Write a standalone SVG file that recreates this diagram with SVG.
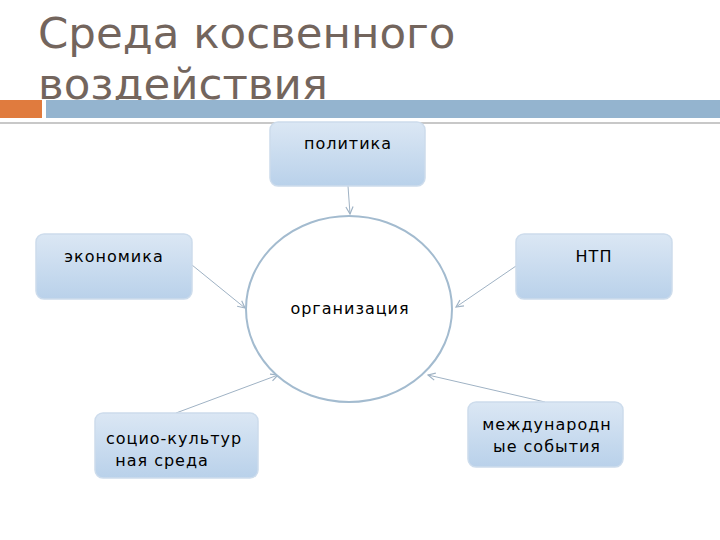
<svg xmlns="http://www.w3.org/2000/svg" width="720" height="540" viewBox="0 0 720 540">
<style>
.title{font-family:"DejaVu Sans",Verdana,sans-serif;font-size:43.5px;fill:#73655d}
.box{fill:url(#g);stroke:#cddcec;stroke-width:1.5}
.lbl{font-family:"DejaVu Sans",Verdana,sans-serif;font-size:16px;fill:#000;letter-spacing:1px}
.con{stroke:#9fb2c4;stroke-width:1;fill:none;marker-end:url(#arr)}
</style>
<defs>
<linearGradient id="g" x1="0" y1="0" x2="0" y2="1">
<stop offset="0" stop-color="#dbe7f4"/>
<stop offset="1" stop-color="#b9d1ea"/>
</linearGradient>
<marker id="arr" viewBox="0 0 10 10" refX="9" refY="5" markerWidth="9" markerHeight="9" orient="auto" markerUnits="userSpaceOnUse">
<path d="M1,1 L9,5 L1,9" fill="none" stroke="#9fb2c4" stroke-width="1.3"/>
</marker>
</defs>
<rect width="720" height="540" fill="#fff"/>
<g id="title">
<text class="title" x="38" y="48">Среда косвенного</text>
<text class="title" x="38" y="99">воздействия</text>
</g>
<g id="bars">
<rect x="0" y="100" width="42" height="18" fill="#e07b3e"/>
<rect x="46" y="100" width="674" height="18" fill="#94b4cf"/>
<rect x="0" y="122" width="720" height="2" fill="#c8c8c8"/>
</g>
<g id="connectors">
<line class="con" x1="348" y1="186" x2="350" y2="214"/>
<line class="con" x1="192" y1="265" x2="245" y2="308"/>
<line class="con" x1="516" y1="266" x2="456" y2="307"/>
<line class="con" x1="176" y1="413" x2="278" y2="375"/>
<line class="con" x1="545" y1="402" x2="428" y2="375"/>
</g>
<g id="org">
<ellipse cx="349" cy="309" rx="103" ry="93" fill="#fff" stroke="#a3bbcf" stroke-width="2"/>
<text class="lbl" x="350" y="314" text-anchor="middle">организация</text>
</g>
<g id="politika">
<rect class="box" x="270" y="122" width="155" height="64" rx="8"/>
<text class="lbl" x="348" y="149" text-anchor="middle">политика</text>
</g>
<g id="ekonomika">
<rect class="box" x="36" y="234" width="156" height="65" rx="8"/>
<text class="lbl" x="114" y="262" text-anchor="middle">экономика</text>
</g>
<g id="ntp">
<rect class="box" x="516" y="234" width="156" height="65" rx="8"/>
<text class="lbl" x="594" y="262" text-anchor="middle">НТП</text>
</g>
<g id="socio">
<rect class="box" x="95" y="413" width="163" height="65" rx="8"/>
<text class="lbl" x="174" y="444" text-anchor="middle">социо-культур</text>
<text class="lbl" x="162" y="466" text-anchor="middle">ная среда</text>
</g>
<g id="mezhd">
<rect class="box" x="468" y="402" width="155" height="65" rx="8"/>
<text class="lbl" x="547" y="430" text-anchor="middle">международн</text>
<text class="lbl" x="547" y="452" text-anchor="middle">ые события</text>
</g>
</svg>
